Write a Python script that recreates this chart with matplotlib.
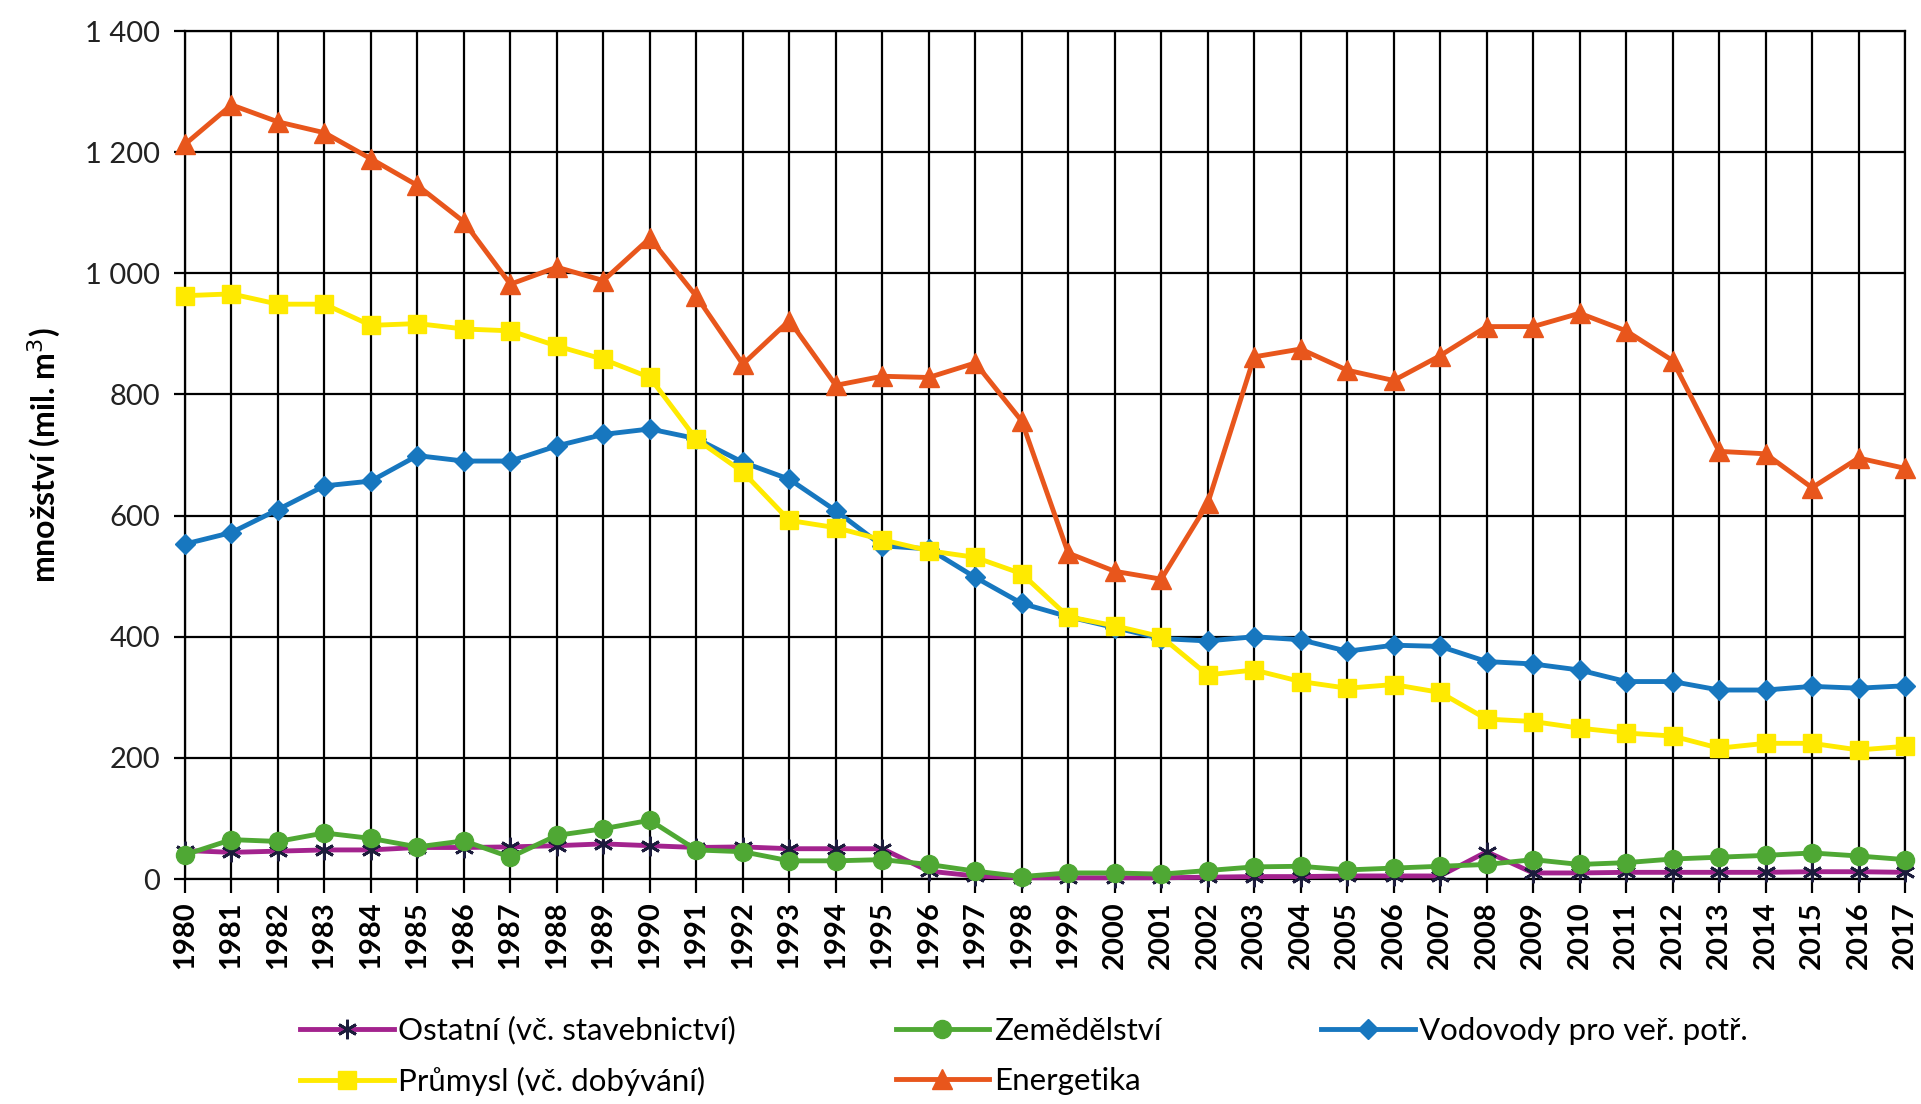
import matplotlib
matplotlib.use("Agg")
import matplotlib.pyplot as plt
from matplotlib.ticker import FuncFormatter, MultipleLocator

# Water abstraction by sector, mil. m3, 1980-2017.
years = list(range(1980, 2018))
ostatni = [47, 44, 46, 48, 48, 52, 52, 53, 55, 58, 55, 52, 53, 50, 50, 50, 13, 5, 2, 2,
           2, 2, 3, 4, 4, 5, 5, 5, 45, 10, 10, 11, 11, 11, 11, 12, 12, 11]
zemedelstvi = [40, 65, 62, 76, 67, 53, 63, 36, 72, 83, 97, 48, 45, 30, 30, 32, 24, 13, 4, 10,
               10, 8, 14, 20, 21, 15, 18, 21, 24, 32, 24, 27, 33, 36, 39, 43, 38, 32]
vodovody = [553, 572, 610, 649, 657, 699, 690, 690, 715, 734, 743, 727, 688, 660, 608, 550,
            545, 498, 455, 433, 415, 397, 393, 400, 395, 376, 386, 384, 359, 355, 345, 326,
            326, 312, 312, 318, 315, 319]
prumysl = [963, 966, 949, 949, 914, 917, 908, 905, 880, 858, 828, 726, 672, 592, 580, 560,
           542, 531, 504, 433, 418, 400, 337, 345, 326, 315, 321, 308, 264, 260, 249, 241,
           236, 216, 224, 224, 213, 219]
energetika = [1213, 1278, 1250, 1232, 1189, 1145, 1085, 982, 1010, 988, 1058, 962, 850, 922,
              815, 830, 828, 852, 756, 538, 508, 495, 620, 862, 875, 840, 823, 864, 912, 912,
              934, 905, 856, 706, 702, 646, 695, 678]

labels = [
    "Ostatní (vč. stavebnictví)",
    "Zemědělství",
    "Vodovody pro veř. potř.",
    "Průmysl (vč. dobývání)",
    "Energetika",
]
y_label = "množství (mil. m$^3$)"


def main():
    plt.rcParams["font.family"] = ["Lato", "DejaVu Sans"]

    W, H = 1921, 1104
    fig = plt.figure(figsize=(W / 100, H / 100), dpi=100)
    left, right, top, bottom = 185, 1905, 31, 879
    ax = fig.add_axes([left / W, 1 - bottom / H, (right - left) / W, (bottom - top) / H])

    # Series in Excel order: later series are drawn on top.
    styles = [
        (ostatni, dict(color="#A3238E", marker=(6, 2, 0), ms=14, mec="#1c1c3c", mew=2.0)),
        (zemedelstvi, dict(color="#4FA834", marker="o", ms=13)),
        (vodovody, dict(color="#1777BF", marker="D", ms=10)),
        (prumysl, dict(color="#FFEA00", marker="s", ms=13)),
        (energetika, dict(color="#E8561C", marker="^", ms=14)),
    ]
    handles = []
    for i, (values, st) in enumerate(styles):
        (h,) = ax.plot(years, values, lw=3.5, label=labels[i], zorder=3 + i, clip_on=False, **st)
        handles.append(h)

    ax.set_xlim(1980, 2017)
    ax.set_ylim(0, 1400)
    ax.xaxis.set_major_locator(MultipleLocator(1))
    ax.yaxis.set_major_locator(MultipleLocator(200))
    ax.yaxis.set_major_formatter(FuncFormatter(lambda v, _: f"{v:,.0f}".replace(",", " ")))

    ax.grid(True, color="black", lw=1.6)
    ax.set_axisbelow(True)
    for sp in ax.spines.values():
        sp.set_color("black")
        sp.set_linewidth(1.6)

    ax.tick_params(axis="x", length=10, width=1.6, pad=6, labelsize=21, rotation=90)
    ax.tick_params(axis="y", length=8, width=1.6, pad=10, labelsize=21, labelcolor="#222222")
    for t in ax.get_xticklabels():
        t.set_fontweight("bold")

    ax.set_ylabel(y_label, fontsize=23, fontweight="bold")
    ax.yaxis.set_label_coords(-0.071, 0.5)

    # Legend: 3 columns filled column-wise, so reorder to get Excel's row layout.
    order = [0, 3, 1, 4, 2]
    fig.legend(
        [handles[i] for i in order],
        [labels[i] for i in order],
        ncol=3,
        loc="upper left",
        bbox_to_anchor=(300 / W, 1 - 1016 / H),
        frameon=False,
        fontsize=22.5,
        handlelength=3.0,
        handletextpad=0.15,
        columnspacing=5.1,
        labelspacing=0.72,
        borderpad=0,
        borderaxespad=0,
    )

    fig.savefig("out.png", dpi=100)
    plt.close(fig)


if __name__ == "__main__":
    main()
